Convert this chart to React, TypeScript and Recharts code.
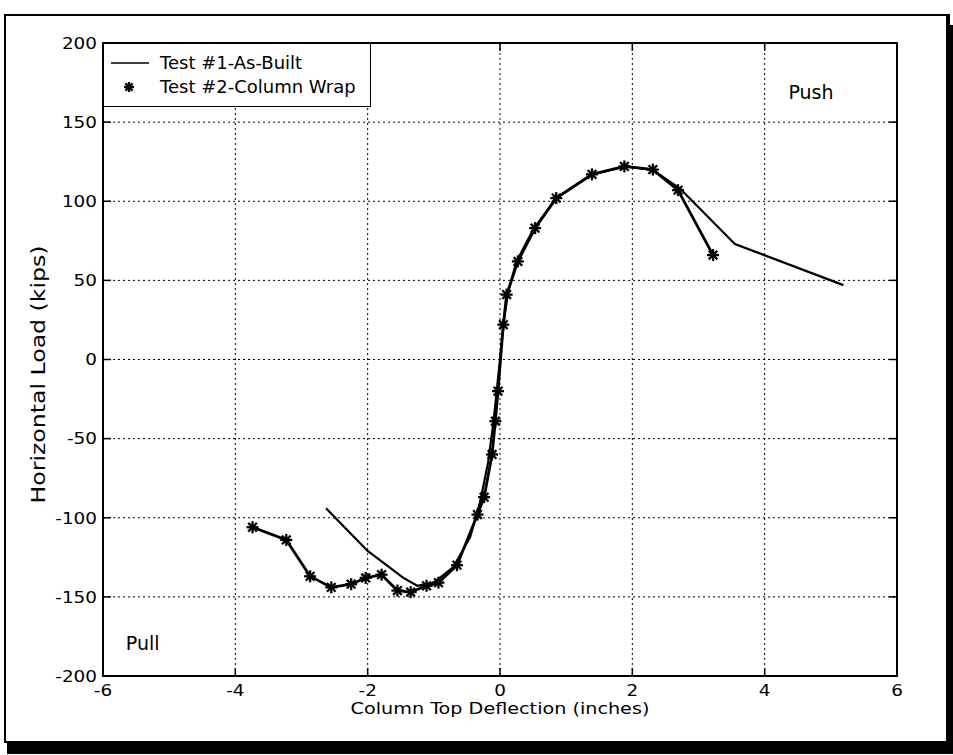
import React from 'react';
import { LineChart, Line, XAxis, YAxis, CartesianGrid, ReferenceArea, ReferenceDot, ReferenceLine } from 'recharts';

const test1X = [-2.63, -2.0, -1.46, -1.25, -1.0, -0.7, -0.45, -0.3, -0.18, -0.1, -0.05, 0.0, 0.05, 0.12, 0.25, 0.5, 0.85, 1.4, 1.9, 2.3, 2.72, 3.55, 5.19];
const test1Y = [-94, -121, -138, -143, -141, -131, -112, -90, -65, -40, -20, 0, 22, 42, 62, 82, 102, 117, 122, 120, 108, 73, 47];

const test2X = [-3.74, -3.23, -2.87, -2.55, -2.25, -2.03, -1.79, -1.55, -1.35, -1.11, -0.93, -0.65, -0.34, -0.24, -0.12, -0.07, -0.03, 0.05, 0.1, 0.27, 0.53, 0.85, 1.39, 1.88, 2.31, 2.69, 3.22];
const test2Y = [-106, -114, -137, -144, -142, -138, -136, -146, -147, -143, -141, -130, -98, -87, -60, -39, -20, 22, 41, 62, 83, 102, 117, 122, 120, 107, 66];

const xTicks = [-6, -4, -2, 0, 2, 4, 6];
const yTicks = [-200, -150, -100, -50, 0, 50, 100, 150, 200];

const series1Name = 'Test #1-As-Built';
const series2Name = 'Test #2-Column Wrap';
const xTitle = 'Column Top Deflection (inches)';
const yTitle = 'Horizontal Load (kips)';

const test1 = test1X.map((x, i) => ({ x, y: test1Y[i] }));
const test2 = test2X.map((x, i) => ({ x, y: test2Y[i] }));

const FONT = '"DejaVu Sans", "Liberation Sans", Arial, sans-serif';

const Star = ({ cx, cy, r = 6 }: { cx: number; cy: number; r?: number }) => {
  const d = r * 0.72;
  return (
    <g stroke="#000" strokeWidth={2.3}>
      <line x1={cx - r} y1={cy} x2={cx + r} y2={cy} />
      <line x1={cx} y1={cy - r} x2={cx} y2={cy + r} />
      <line x1={cx - d} y1={cy - d} x2={cx + d} y2={cy + d} />
      <line x1={cx - d} y1={cy + d} x2={cx + d} y2={cy - d} />
    </g>
  );
};

const StarDot = (props: any) => {
  const { cx, cy, index } = props;
  if (cx == null || cy == null) return <g key={`s${index}`} />;
  return <Star key={`s${index}`} cx={cx} cy={cy} />;
};

const XTick = (props: any) => {
  const { x, y, payload } = props;
  return (
    <g transform={`translate(${x},${y})`}>
      <text x={0} y={0} dy="0.71em" textAnchor="middle" fontSize={16} fontFamily={FONT} fill="#000" transform="scale(1.15,1)">
        {payload.value}
      </text>
    </g>
  );
};

const YTick = (props: any) => {
  const { x, y, payload } = props;
  return (
    <g transform={`translate(${x},${y})`}>
      <text x={0} y={0} dy="0.36em" textAnchor="end" fontSize={16} fontFamily={FONT} fill="#000" transform="scale(1.15,1)">
        {payload.value}
      </text>
    </g>
  );
};

const XTitle = (props: any) => {
  const vb = props.viewBox || { x: 0, y: 0, width: 0 };
  return (
    <text
      x={0}
      y={0}
      transform={`translate(${vb.x + vb.width / 2},${vb.y + 38}) scale(1.2,1)`}
      textAnchor="middle"
      fontSize={16}
      fontFamily={FONT}
      fill="#000"
    >
      {xTitle}
    </text>
  );
};

const YTitle = (props: any) => {
  const vb = props.viewBox || { x: 0, y: 0, height: 0 };
  return (
    <text
      x={0}
      y={0}
      transform={`translate(${vb.x + 5},${vb.y + vb.height / 2 + 15}) rotate(-90) scale(1.18,1)`}
      textAnchor="middle"
      dominantBaseline="central"
      fontSize={20}
      fontFamily={FONT}
      fill="#000"
    >
      {yTitle}
    </text>
  );
};

const LegendBox = () => (
  <div
    style={{
      position: 'absolute',
      left: 103,
      top: 43,
      width: 268,
      height: 64,
      border: '1.5px solid #000',
      background: '#fff',
      fontFamily: FONT,
      fontSize: 18,
      color: '#000',
      boxSizing: 'border-box',
    }}
  >
    <svg width={60} height={62} style={{ position: 'absolute', left: 0, top: 0 }}>
      <line x1={7} y1={19} x2={45} y2={19} stroke="#000" strokeWidth={1.5} />
      <Star cx={25} cy={43} r={5} />
    </svg>
    <div style={{ position: 'absolute', left: 56, top: 7, lineHeight: '24px' }}>{series1Name}</div>
    <div style={{ position: 'absolute', left: 56, top: 31, lineHeight: '24px' }}>{series2Name}</div>
  </div>
);

const xTickMarks = xTicks.slice(1, -1);
const yTickMarks = yTicks.slice(1, -1);

export default function App() {
  return (
    <div style={{ position: 'absolute', left: 0, top: 0, width: 953, height: 755, background: '#fff' }}>
      <div
        style={{
          position: 'absolute',
          left: 4,
          top: 14,
          width: 940,
          height: 725,
          borderStyle: 'solid',
          borderColor: '#000',
          borderWidth: '2px 4px 2px 2px',
          boxShadow: '3px 11px 0 #000',
        }}
      />
      <div style={{ position: 'absolute', left: 0, top: 0 }}>
        <LineChart
          width={953}
          height={755}
          margin={{ top: 43, right: 56, bottom: 39, left: 33 }}
          style={{ fontFamily: FONT }}
        >
          <CartesianGrid stroke="#000" strokeDasharray="2 3" strokeWidth={1} />
          <XAxis
            type="number"
            dataKey="x"
            domain={[-6, 6]}
            ticks={xTicks}
            allowDataOverflow
            tickLine={false}
            axisLine={false}
            height={40}
            tick={<XTick />}
            tickMargin={3}
            label={<XTitle />}
          />
          <YAxis
            type="number"
            dataKey="y"
            domain={[-200, 200]}
            ticks={yTicks}
            allowDataOverflow
            tickLine={false}
            axisLine={false}
            width={70}
            tick={<YTick />}
            tickMargin={0}
            label={<YTitle />}
          />
          {xTickMarks.map((t) => (
            <ReferenceLine key={`xb${t}`} segment={[{ x: t, y: -200 }, { x: t, y: -195 }]} stroke="#000" strokeWidth={1.5} />
          ))}
          {xTickMarks.map((t) => (
            <ReferenceLine key={`xt${t}`} segment={[{ x: t, y: 200 }, { x: t, y: 195 }]} stroke="#000" strokeWidth={1.5} />
          ))}
          {yTickMarks.map((t) => (
            <ReferenceLine key={`yl${t}`} segment={[{ x: -6, y: t }, { x: -5.88, y: t }]} stroke="#000" strokeWidth={1.5} />
          ))}
          {yTickMarks.map((t) => (
            <ReferenceLine key={`yr${t}`} segment={[{ x: 6, y: t }, { x: 5.88, y: t }]} stroke="#000" strokeWidth={1.5} />
          ))}
          <ReferenceArea x1={-6} x2={6} y1={-200} y2={200} fill="none" fillOpacity={0} stroke="#000" strokeWidth={2} ifOverflow="visible" />
          <Line
            data={test1}
            dataKey="y"
            name={series1Name}
            stroke="#000"
            strokeWidth={2.2}
            dot={false}
            type="linear"
            isAnimationActive={false}
          />
          <Line
            data={test2}
            dataKey="y"
            name={series2Name}
            stroke="#000"
            strokeWidth={2.8}
            dot={StarDot}
            activeDot={false}
            type="linear"
            isAnimationActive={false}
          />
          <ReferenceDot
            x={4.7}
            y={169}
            r={0}
            fill="none"
            stroke="none"
            label={{ value: 'Push', position: 'center', fill: '#000', fontSize: 19, fontFamily: FONT }}
          />
          <ReferenceDot
            x={-5.4}
            y={-179}
            r={0}
            fill="none"
            stroke="none"
            label={{ value: 'Pull', position: 'center', fill: '#000', fontSize: 19, fontFamily: FONT }}
          />
        </LineChart>
      </div>
      <LegendBox />
    </div>
  );
}
